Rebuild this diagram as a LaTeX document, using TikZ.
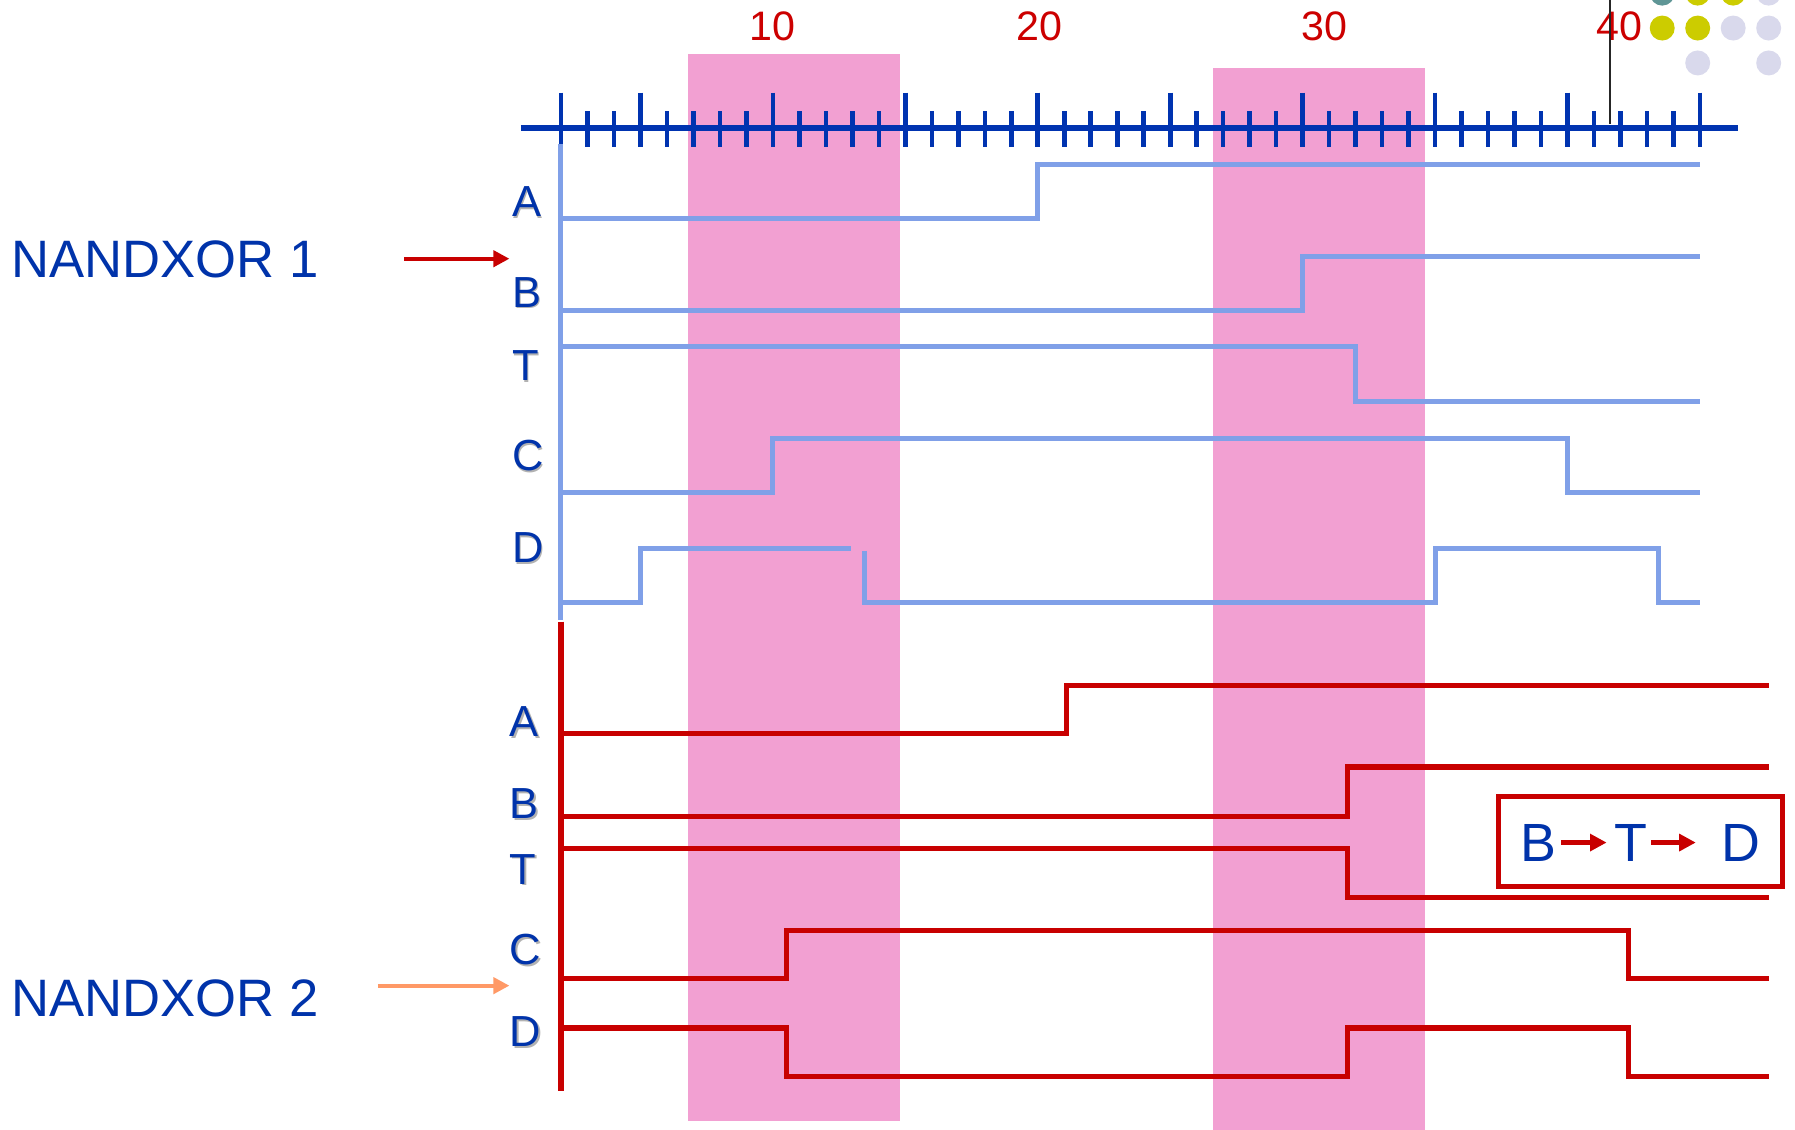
\documentclass[tikz,border=0pt]{standalone}
\usepackage{fontspec}
\setmainfont{Liberation Sans}
\usetikzlibrary{arrows.meta}
\definecolor{txtblue}{RGB}{0,51,170}
\definecolor{axblue}{RGB}{0,51,176}
\definecolor{sigblue}{RGB}{128,160,232}
\definecolor{sigred}{RGB}{200,0,0}
\definecolor{numred}{RGB}{204,0,0}
\definecolor{pinkband}{RGB}{242,160,210}
\definecolor{salmonc}{RGB}{255,153,102}
\definecolor{dotteal}{RGB}{95,150,150}
\definecolor{dotyellow}{RGB}{204,204,0}
\definecolor{dotlav}{RGB}{217,217,236}
\newcommand\shtxt[1]{\makebox[0pt][l]{\hspace{1.5pt}\raisebox{-1.5pt}{\color{black!30}#1}}#1}
\begin{document}
\begin{tikzpicture}[x=1pt,y=-1pt,
  band/.style={fill=pinkband},
  axisline/.style={draw=axblue,line width=5pt},
  tickmark/.style={draw=axblue,line width=4pt},
  sigup/.style={draw=sigblue,line width=4.4pt},
  sigdown/.style={draw=sigred,line width=4.4pt},
  siglabel/.style={text=txtblue,font=\fontsize{38}{40}\selectfont,inner sep=0pt},
  numlabel/.style={text=numred,font=\fontsize{36}{38}\selectfont,inner sep=0pt},
  title/.style={text=txtblue,font=\fontsize{46}{50}\selectfont,inner sep=0pt,anchor=west},
  boxtxt/.style={text=txtblue,font=\fontsize{47}{50}\selectfont,inner sep=0pt},
  ptr/.style={line width=3.5pt,-{Triangle[length=14pt,width=14pt]}},
  boxptr/.style={draw=sigred,line width=4.4pt,-{Triangle[length=14.5pt,width=14.5pt]}}
]
\clip (0,0) rectangle (1568,987);
\fill[white] (0,0) rectangle (1568,987);

% pink bands
\fill[band] (601,47) rectangle (786,979);
\fill[band] (1060,59) rectangle (1245,987);

% time axis
\draw[axisline] (455,112) -- (1518,112);
\foreach \i in {0,...,43}{
  \pgfmathtruncatemacro\ismaj{(\i==0)||(mod(\i+2,5)==0)}
  \ifnum\ismaj=1
    \draw[tickmark] ({490+23.14*\i},81) -- ({490+23.14*\i},128);
  \else
    \draw[tickmark] ({490+23.14*\i},97) -- ({490+23.14*\i},128);
  \fi
}
\node[numlabel] (n10) at (675,23) {10};
\node[numlabel] (n20) at (908,23) {20};
\node[numlabel] (n30) at (1157,23) {30};
\node[numlabel] (n40) at (1415,23) {40};
\draw[black!85,line width=1.7pt] (1406,0) -- (1406,108);

% vertical signal axes
\draw[sigblue,line width=4.4pt] (490,126) -- (490,542);
\draw[sigred,line width=5pt] (490,543) -- (490,953);

% signals
\begin{scope}[shift={(490,0)},x=23.14pt]
  \draw[sigup] (0,191) -- (18,191) -- (18,144) -- (43,144);
  \draw[sigup] (0,271) -- (28,271) -- (28,224) -- (43,224);
  \draw[sigup] (0,303) -- (30,303) -- (30,351) -- (43,351);
  \draw[sigup] (0,430) -- (8,430) -- (8,383) -- (38,383) -- (38,430) -- (43,430);
  \draw[sigup] (0,526) -- (3,526) -- (3,479) -- (10.95,479);
  \draw[sigup] (11.45,481) -- (11.45,526) -- (33,526) -- (33,479) -- (41.45,479) -- (41.45,526) -- (43,526);

  \draw[sigdown] (0,641) -- (19.1,641) -- (19.1,599) -- (45.6,599);
  \draw[sigdown] (0,713) -- (29.7,713) -- (29.7,670) -- (45.6,670);
  \draw[sigdown] (0,741) -- (29.7,741) -- (29.7,784) -- (45.6,784);
  \draw[sigdown] (0,855) -- (8.5,855) -- (8.5,813) -- (40.3,813) -- (40.3,855) -- (45.6,855);
  \draw[sigdown] (0,898) -- (8.5,898) -- (8.5,940) -- (29.7,940) -- (29.7,898) -- (40.3,898) -- (40.3,940) -- (45.6,940);
\end{scope}

% signal labels
\node[siglabel] (uA) at (460,177) {\shtxt{A}};
\node[siglabel] (uB) at (460,256) {\shtxt{B}};
\node[siglabel] (uT) at (459,320) {\shtxt{T}};
\node[siglabel] (uC) at (461,399) {\shtxt{C}};
\node[siglabel] (uD) at (461,479) {\shtxt{D}};
\node[siglabel] (dA) at (458,631) {\shtxt{A}};
\node[siglabel] (dB) at (458,703) {\shtxt{B}};
\node[siglabel] (dT) at (457,760) {\shtxt{T}};
\node[siglabel] (dC) at (459,830) {\shtxt{C}};
\node[siglabel] (dD) at (459,902) {\shtxt{D}};

% titles and pointers
\node[title] (t1) at (10,227) {NANDXOR 1};
\node[title] (t2) at (10,872) {NANDXOR 2};
\coordinate (p1s) at (353,226);
\coordinate (p1e) at (445,226);
\coordinate (p2s) at (330,861);
\coordinate (p2e) at (445,861);
\draw[ptr,sigred] (p1s) -- (p1e);
\draw[ptr,salmonc] (p2s) -- (p2e);

% order box
\node[draw=sigred,line width=4.4pt,minimum width=248pt,minimum height=78pt,inner sep=0pt] (bx) at (1433,735) {};
\node[boxtxt] (bB) at (1344,736) {B};
\node[boxtxt] (bT) at (1425,736) {T};
\node[boxtxt] (bD) at (1521,736) {D};
\draw[boxptr] ([xshift=4pt]bB.east) -- ([xshift=-7pt]bT.west);
\draw[boxptr] ([xshift=3pt]bT.east) -- ([xshift=-22.5pt]bD.west);

% decorative dots
\foreach \cx/\cy/\cc in {1452/-6/dotteal,1483/-6/dotyellow,1514/-6/dotyellow,1545/-6/dotlav,
  1452/24.5/dotyellow,1483/24.5/dotyellow,1514/24.5/dotlav,1545/24.5/dotlav,
  1483/55/dotlav,1545/55/dotlav}{
  \fill[\cc] (\cx,\cy) circle (10.9pt);
}
\end{tikzpicture}
\end{document}
